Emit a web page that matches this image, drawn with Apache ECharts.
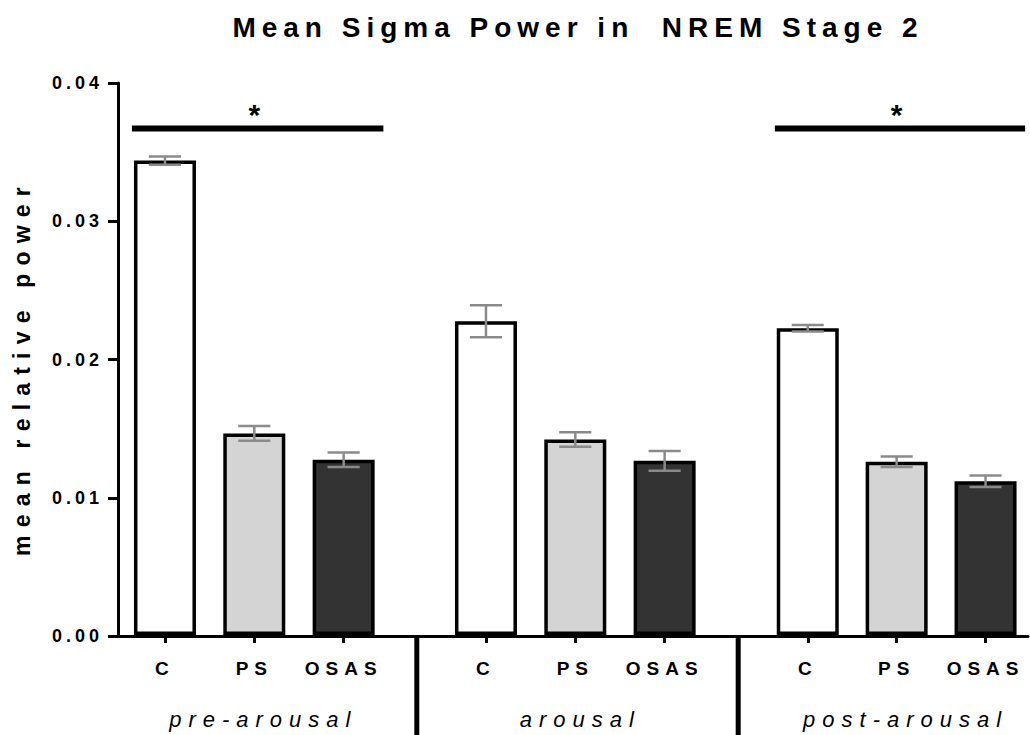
<!DOCTYPE html>
<html>
<head>
<meta charset="utf-8">
<script src="https://cdn.jsdelivr.net/npm/echarts@6/dist/echarts.min.js"></script>
<style>
  html, body { margin: 0; padding: 0; background: #fff; }
  #chart { width: 1030px; height: 735px; }
  #chart text { letter-spacing: 0.25em; }
  #chart text[style*="28px"] { letter-spacing: 6px; }
  #chart text[style*="18px"] { letter-spacing: 4px; }
  #chart text[style*="19px"] { letter-spacing: 6px; }
  #chart text[style*="22px"] { letter-spacing: 7px; }
  #chart text[style*="23px"] { letter-spacing: 8.2px; }
  #chart text[style*="30px"] { letter-spacing: 0; }
</style>
</head>
<body>
<div id="chart"></div>
<script>
// ---- data ----
const titleText = 'Mean Sigma Power in  NREM Stage 2';
const yAxisName = 'mean relative power';
const groups = ['pre-arousal', 'arousal', 'post-arousal'];
const categories = ['C', 'PS', 'OSAS'];
const preArousalMean = [0.03438, 0.01461, 0.0127];
const arousalMean = [0.02273, 0.01417, 0.01262];
const postArousalMean = [0.02223, 0.01256, 0.01114];
const preArousalErr = [0.00030, 0.00053, 0.00052];
const arousalErr = [0.00116, 0.00053, 0.00071];
const postArousalErr = [0.00023, 0.00038, 0.00041];
const significantGroups = [0, 2];      // groups marked with "*"
const significanceLevel = 0.0367;      // height of the bracket line
const yMin = 0, yMax = 0.04, yStep = 0.01;

// ---- styling ----
const FONT = '"Liberation Sans", Arial, Helvetica, sans-serif';
const fillColors = ['#ffffff', '#d4d4d4', '#333333'];
const means = [preArousalMean, arousalMean, postArousalMean];
const errs = [preArousalErr, arousalErr, postArousalErr];

const gridTop = 83, gridBottom = 99;
const groupGridLeft = [120.3, 441.3, 763.3];
const groupGridWidth = 268;
const groupNameShift = [18, 10, 18];

const grids = [{ left: 118, right: 2, top: gridTop, bottom: gridBottom }];
const xAxes = [{
  gridIndex: 0, type: 'value', min: 0, max: 1,
  axisLine: { show: true, lineStyle: { color: '#000', width: 3 } },
  axisTick: { show: false }, axisLabel: { show: false }, splitLine: { show: false }
}];
const yAxes = [{
  gridIndex: 0, type: 'value', min: yMin, max: yMax, interval: yStep,
  axisLine: { show: true, lineStyle: { color: '#000', width: 3 } },
  axisTick: { show: true, length: 10, lineStyle: { color: '#000', width: 3 } },
  axisLabel: {
    margin: 15, color: '#000', fontSize: 18, fontWeight: 'bold', fontFamily: FONT,
    formatter: v => v.toFixed(2)
  },
  splitLine: { show: false },
  name: yAxisName, nameLocation: 'middle', nameGap: 85,
  nameTextStyle: { color: '#000', fontSize: 23, fontWeight: 'bold', fontFamily: FONT, padding: [0, 16, 0, 0] }
}];
const series = [];

groups.forEach((g, gi) => {
  const idx = gi + 1;
  grids.push({ left: groupGridLeft[gi], width: groupGridWidth, top: gridTop, bottom: gridBottom });
  xAxes.push({
    gridIndex: idx, type: 'category', data: categories,
    axisLine: { show: false },
    axisTick: { show: true, alignWithLabel: true, length: 8, lineStyle: { color: '#000', width: 3 } },
    axisLabel: { margin: 24, color: '#000', fontSize: 19, fontWeight: 'bold', fontFamily: FONT },
    name: g, nameLocation: 'middle', nameGap: 73,
    nameTextStyle: { color: '#000', fontSize: 22, fontStyle: 'italic', fontFamily: FONT,
      padding: [0, 0, 0, groupNameShift[gi]] }
  });
  yAxes.push({ gridIndex: idx, type: 'value', min: yMin, max: yMax, show: false });

  series.push({
    type: 'bar', xAxisIndex: idx, yAxisIndex: idx, barWidth: 62, z: 2,
    data: means[gi].map((v, i) => ({
      value: v,
      itemStyle: { color: fillColors[i], borderColor: '#000', borderWidth: 3.5 }
    })),
    silent: true
  });

  series.push({
    type: 'custom', xAxisIndex: idx, yAxisIndex: idx, z: 3, silent: true,
    data: means[gi].map((v, i) => [i, v, errs[gi][i]]),
    encode: { x: 0, y: 1 },
    renderItem: (params, api) => {
      const c = api.value(0), m = api.value(1), e = api.value(2);
      const hi = api.coord([c, m + e]);
      const lo = api.coord([c, m - e]);
      const half = api.size([1, 0])[0] * 0.18;
      const st = { stroke: '#8a8a8a', lineWidth: 2.5 };
      return {
        type: 'group', children: [
          { type: 'line', shape: { x1: hi[0], y1: hi[1], x2: lo[0], y2: lo[1] }, style: st },
          { type: 'line', shape: { x1: hi[0] - half, y1: hi[1], x2: hi[0] + half, y2: hi[1] }, style: st },
          { type: 'line', shape: { x1: lo[0] - half, y1: lo[1], x2: lo[0] + half, y2: lo[1] }, style: st }
        ]
      };
    }
  });

  if (significantGroups.indexOf(gi) >= 0) {
    series.push({
      type: 'custom', xAxisIndex: idx, yAxisIndex: idx, z: 4, silent: true,
      data: [[0, categories.length - 1, significanceLevel]],
      encode: { x: [0, 1], y: 2 },
      renderItem: (params, api) => {
        const a = api.coord([api.value(0), api.value(2)]);
        const b = api.coord([api.value(1), api.value(2)]);
        const band = api.size([1, 0])[0];
        const mid = api.coord([1, api.value(2)]);
        return {
          type: 'group', children: [
            { type: 'line', shape: { x1: a[0] - 0.37 * band, y1: a[1], x2: b[0] + 0.445 * band, y2: b[1] },
              style: { stroke: '#000', lineWidth: 6 } },
            { type: 'text', style: { text: '*', x: mid[0], y: a[1] - 14.5, align: 'center', verticalAlign: 'middle',
              fill: '#000', font: 'bold 30px ' + FONT } }
          ]
        };
      }
    });
  }
});

const chart = echarts.init(document.getElementById('chart'), null, { renderer: 'svg' });
chart.setOption({
  animation: false,
  backgroundColor: '#fff',
  title: {
    text: titleText, left: 578, top: 13.5, textAlign: 'center', padding: 0,
    textStyle: { color: '#000', fontSize: 28, fontWeight: 'bold', fontFamily: FONT }
  },
  grid: grids, xAxis: xAxes, yAxis: yAxes, series: series
});

// group separators below the axis
const yBase = chart.convertToPixel({ yAxisIndex: 0 }, 0);
const seps = [];
for (let g = 0; g < groups.length - 1; g++) {
  const xr = chart.convertToPixel({ xAxisIndex: g + 1 }, categories[categories.length - 1]);
  const xl = chart.convertToPixel({ xAxisIndex: g + 2 }, categories[0]);
  const sx = (xr + xl) / 2 + 2;
  seps.push({ type: 'line', shape: { x1: sx, y1: yBase, x2: sx, y2: 735 }, style: { stroke: '#000', lineWidth: 5 }, silent: true });
}
chart.setOption({ graphic: seps });
</script>
</body>
</html>
